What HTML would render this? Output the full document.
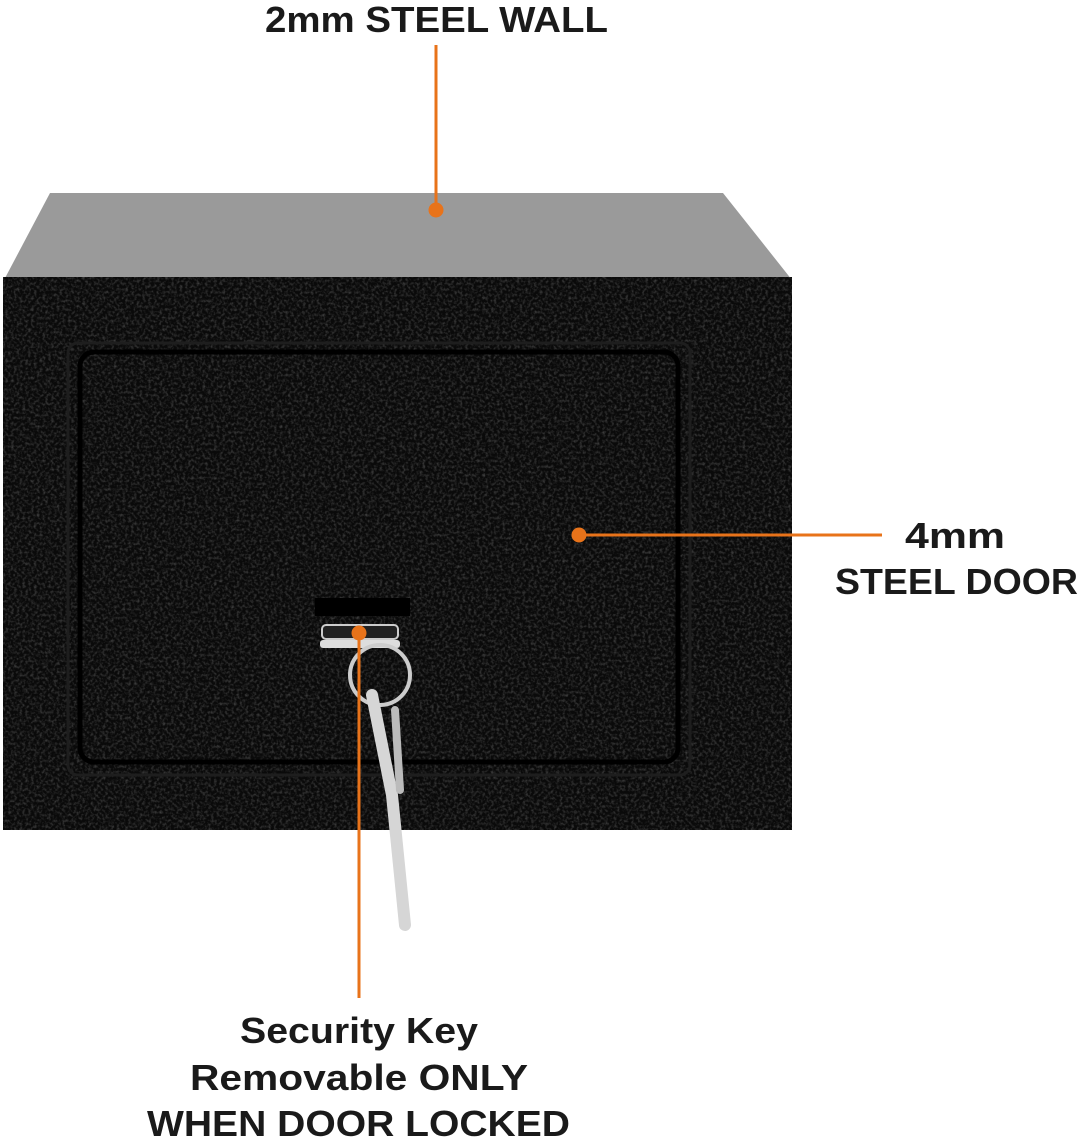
<!DOCTYPE html>
<html><head><style>
body{margin:0;background:#fff;width:1080px;height:1142px;overflow:hidden;}
svg{display:block}
text{font-family:"Liberation Sans",sans-serif;font-weight:bold;fill:#1a1a1a;font-size:36px;text-anchor:start}
</style></head><body>
<svg width="1080" height="1142" viewBox="0 0 1080 1142">
<defs>
<filter id="tex"><feTurbulence type="fractalNoise" baseFrequency="0.35" numOctaves="2" seed="3"/><feColorMatrix values="0 0 0 0 0.3  0 0 0 0 0.3  0 0 0 0 0.3  0 0 0 1.3 -0.55"/><feComposite in2="SourceGraphic" operator="in"/></filter>
</defs>
<polygon points="50,193 723,193 792,280 4,280" fill="#9a9a9a"/>
<polygon points="3,277 792,277 792,830 3,830" fill="#0a0a0a"/>
<polygon points="3,277 792,277 792,830 3,830" fill="#fff" filter="url(#tex)" opacity="0.6"/>
<rect x="68" y="343" width="622" height="432" rx="10" fill="none" stroke="#1e1e1e" stroke-width="3"/>
<rect x="80" y="352" width="598" height="410" rx="14" fill="none" stroke="#000" stroke-width="5"/>
<rect x="315" y="598" width="95" height="18" fill="#000"/>
<rect x="322" y="625" width="76" height="14" rx="4" fill="#222" stroke="#ccc" stroke-width="2"/>
<rect x="320" y="640" width="80" height="8" rx="3" fill="#ddd"/>
<circle cx="380" cy="675" r="30" fill="none" stroke="#ccc" stroke-width="4"/>
<path d="M372,695 L385,760 L392,795 L405,925" stroke="#d6d6d6" stroke-width="12" fill="none" stroke-linecap="round"/>
<path d="M395,710 L400,790" stroke="#bbb" stroke-width="8" fill="none" stroke-linecap="round"/>
<g stroke="#e8731a" stroke-width="3" fill="#e8731a">
<line x1="436" y1="45" x2="436" y2="210"/><circle cx="436" cy="210" r="6"/>
<line x1="579" y1="535" x2="882" y2="535"/><circle cx="579" cy="535" r="6"/>
<line x1="359" y1="633" x2="359" y2="998"/><circle cx="359" cy="633" r="6"/>
</g>
<text x="265" y="32" textLength="343" lengthAdjust="spacingAndGlyphs">2mm STEEL WALL</text>
<text x="905" y="548" textLength="100" lengthAdjust="spacingAndGlyphs">4mm</text>
<text x="835" y="594" textLength="243" lengthAdjust="spacingAndGlyphs">STEEL DOOR</text>
<text x="240" y="1043" textLength="238" lengthAdjust="spacingAndGlyphs">Security Key</text>
<text x="190" y="1090" textLength="338" lengthAdjust="spacingAndGlyphs">Removable ONLY</text>
<text x="147" y="1136" textLength="423" lengthAdjust="spacingAndGlyphs">WHEN DOOR LOCKED</text>
</svg>
</body></html>
